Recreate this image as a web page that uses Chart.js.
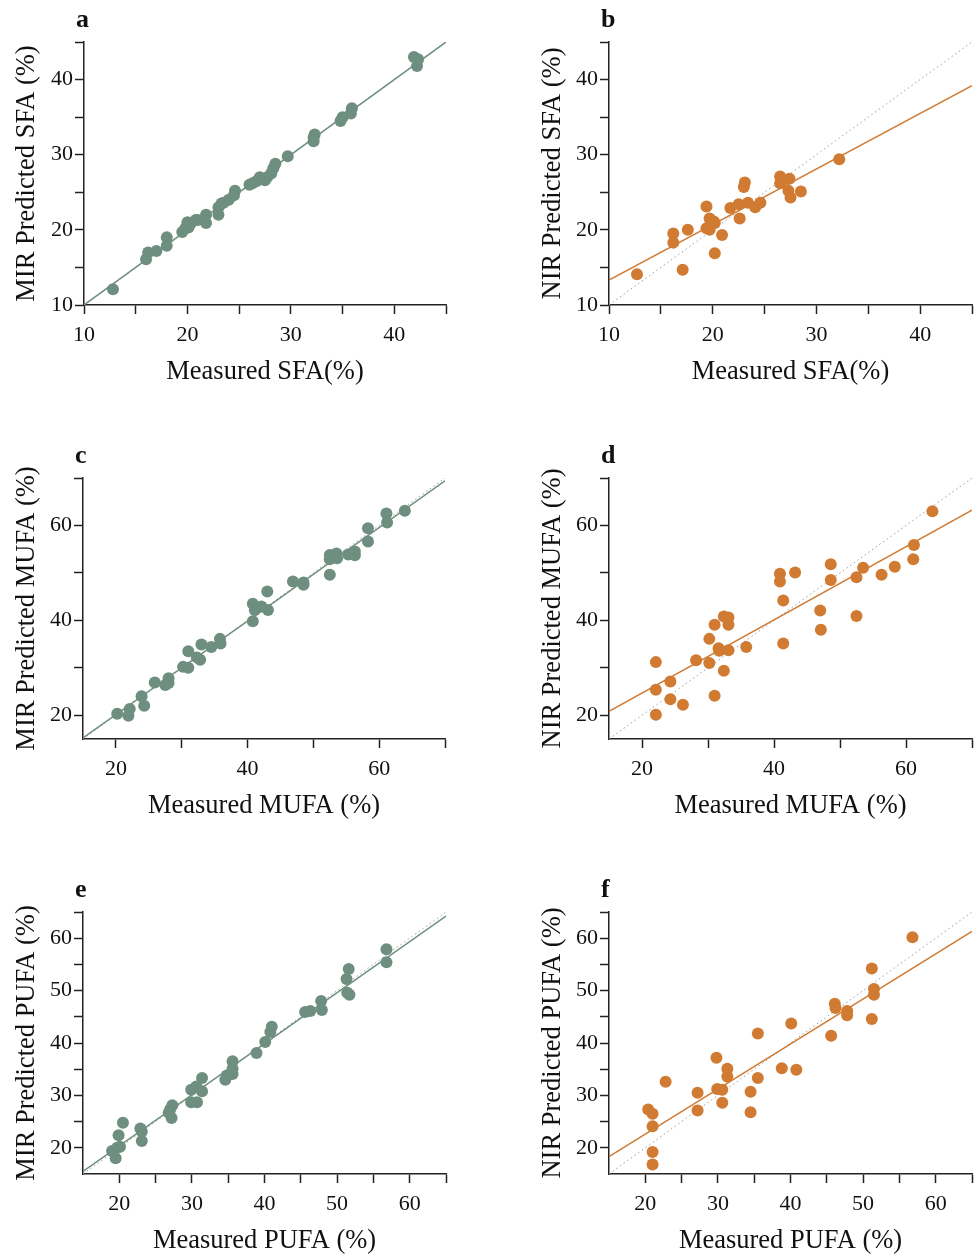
<!DOCTYPE html>
<html>
<head>
<meta charset="utf-8">
<script src="https://cdn.jsdelivr.net/npm/chart.js@4/dist/chart.umd.min.js"></script>
<style>
  html, body { margin: 0; padding: 0; background: #fff; overflow: hidden; }
  #page { position: relative; width: 976px; height: 1255px; overflow: hidden; }
  canvas { position: absolute; }
  .letter {
    position: absolute;
    font: bold 26px "Liberation Serif", "Times New Roman", serif;
    line-height: 1;
    color: #111;
  }
</style>
</head>
<body>
<div id="page"></div>
<script>
'use strict';

// SFA
const sfaMeasuredMir = [12.8, 16.0, 16.2, 17.0, 18.0, 18.0, 19.5, 19.8, 20.0, 20.1, 20.3, 20.8, 21.0, 21.8, 21.8, 23.0, 23.0, 23.3, 23.5, 24.0, 24.5, 24.6, 26.0, 26.3, 26.7, 27.0, 27.5, 27.7, 28.1, 28.3, 28.5, 29.7, 32.2, 32.2, 32.3, 34.8, 35.0, 35.8, 35.9, 41.9, 42.3, 42.2];
const sfaPredictedMir = [12.1, 16.1, 17.0, 17.2, 17.9, 19.0, 19.7, 20.2, 21.0, 20.3, 20.8, 21.3, 21.3, 22.0, 20.9, 22.0, 23.0, 23.5, 23.6, 24.0, 24.6, 25.2, 26.0, 26.2, 26.5, 27.0, 26.6, 27.0, 27.5, 28.2, 28.8, 29.8, 31.8, 32.3, 32.7, 34.5, 35.0, 35.5, 36.2, 43.0, 42.7, 41.8];
const sfaMeasuredNir = [12.7, 16.2, 16.2, 17.1, 17.6, 19.4, 19.4, 19.7, 19.7, 20.1, 20.2, 20.2, 20.9, 21.7, 22.5, 22.6, 23.1, 23.0, 23.4, 24.1, 24.6, 26.5, 26.5, 27.4, 27.3, 27.5, 28.5, 32.2];
const sfaPredictedNir = [14.1, 19.5, 18.3, 14.7, 20.0, 23.1, 20.2, 21.5, 20.0, 21.1, 16.9, 20.9, 19.3, 22.9, 23.4, 21.5, 26.3, 25.7, 23.6, 23.0, 23.6, 27.1, 26.2, 26.8, 25.2, 24.3, 25.1, 29.4];

// MUFA
const mufaMeasuredMir = [20.2, 22.1, 21.9, 23.9, 24.3, 25.9, 27.5, 28.0, 28.0, 30.2, 31.0, 31.0, 32.3, 32.8, 33.0, 34.5, 35.8, 35.9, 40.8, 40.8, 41.1, 42.1, 43.1, 43.0, 46.9, 48.5, 48.5, 52.5, 52.5, 52.5, 53.5, 53.6, 55.3, 56.3, 56.3, 58.3, 58.3, 61.1, 61.2, 63.9];
const mufaPredictedMir = [20.3, 21.3, 19.9, 24.0, 22.0, 26.9, 26.4, 27.8, 26.8, 30.2, 30.0, 33.5, 32.2, 31.7, 34.9, 34.4, 36.1, 35.1, 39.8, 43.5, 42.2, 42.9, 42.2, 46.1, 48.2, 47.5, 48.0, 49.6, 53.8, 52.9, 54.1, 53.1, 53.9, 54.5, 53.7, 56.6, 59.4, 62.5, 60.6, 63.1];
const mufaMeasuredNir = [22.1, 22.1, 22.1, 24.3, 24.3, 26.2, 28.2, 30.2, 30.2, 31.0, 31.0, 31.6, 31.7, 32.4, 32.4, 33.1, 33.1, 33.1, 35.8, 40.9, 40.9, 41.4, 41.4, 43.2, 47.0, 47.1, 48.6, 48.6, 52.5, 52.5, 53.5, 56.3, 58.3, 61.2, 61.1, 64.0];
const mufaPredictedNir = [31.2, 25.4, 20.1, 27.1, 23.4, 22.2, 31.6, 36.1, 31.0, 39.1, 24.1, 34.1, 33.6, 40.8, 29.4, 40.6, 39.1, 33.7, 34.4, 49.8, 48.2, 44.2, 35.1, 50.1, 42.1, 38.0, 51.8, 48.5, 49.1, 40.9, 51.1, 49.6, 51.3, 55.9, 52.9, 63.0];

// PUFA
const pufaMeasuredMir = [19.0, 19.5, 19.7, 20.1, 19.9, 20.5, 22.9, 23.1, 23.1, 27.0, 27.3, 27.2, 26.8, 29.9, 29.9, 30.7, 30.6, 31.4, 31.4, 34.6, 34.8, 35.6, 35.6, 35.6, 38.9, 40.1, 40.8, 41.0, 45.6, 46.3, 47.8, 47.9, 51.3, 51.6, 51.4, 51.7, 56.8, 56.8];
const pufaPredictedMir = [19.4, 18.0, 20.0, 20.2, 22.4, 24.8, 23.7, 23.1, 21.3, 27.3, 28.1, 25.7, 26.7, 31.1, 28.7, 28.7, 31.7, 33.3, 30.8, 33.0, 33.8, 36.5, 35.1, 34.1, 38.1, 40.2, 42.1, 43.1, 45.9, 46.1, 48.0, 46.3, 52.2, 54.1, 49.6, 49.2, 57.9, 55.4];
const pufaMeasuredNir = [20.4, 21.0, 21.0, 21.0, 21.0, 22.8, 27.2, 27.2, 29.8, 29.9, 30.6, 30.6, 31.3, 31.3, 34.5, 34.5, 35.5, 35.5, 38.8, 40.1, 40.8, 45.6, 46.1, 46.2, 47.8, 47.8, 51.2, 51.2, 51.5, 51.5, 56.8];
const pufaPredictedNir = [27.3, 26.5, 24.1, 19.2, 16.8, 32.6, 30.5, 27.1, 37.2, 31.2, 31.1, 28.6, 35.1, 33.6, 30.7, 26.8, 41.8, 33.3, 35.2, 43.7, 34.9, 41.4, 47.5, 46.7, 46.1, 45.3, 54.2, 44.6, 50.3, 49.2, 60.2];

// regression lines: [slope, intercept]
const fitSfaMir = [1.0, 0.0];
const fitSfaNir = [0.74, 5.9];
const fitMufaMir = [0.985, 0.45];
const fitMufaNir = [0.771, 9.24];
const fitPufaMir = [0.974, 0.9];
const fitPufaNir = [0.86, 5.4];

// axis ticks and which of them carry a label
const sfaTicks = [10, 15, 20, 25, 30, 35, 40, 45];
const sfaLabels = [10, 20, 30, 40];
const mufaTicks = [20, 30, 40, 50, 60, 70];
const mufaLabels = [20, 40, 60];
const pufaXTicks = [20, 25, 30, 35, 40, 45, 50, 55, 60, 65];
const pufaXLabels = [20, 30, 40, 50, 60];
const pufaYTicks = [20, 25, 30, 35, 40, 45, 50, 55, 60, 65];
const pufaYLabels = [20, 30, 40, 50, 60];

const GREEN = '#6e8f80';
const ORANGE = '#d07a32';
const FONT = '"Liberation Serif", "Times New Roman", serif';

const panels = [
  { letter: 'a', left: 0, top: 0, padTop: 42, plotH: 263, yAxisW: 84, plotW: 362, yTitlePad: 11,
    xs: sfaMeasuredMir, ys: sfaPredictedMir, fit: fitSfaMir, color: GREEN, range: [10, 45],
    xTicks: sfaTicks, xLabels: sfaLabels, yTicks: sfaTicks, yLabels: sfaLabels,
    xTitle: 'Measured SFA(%)', yTitle: 'MIR Predicted SFA (%)' },
  { letter: 'b', left: 520, top: 0, padTop: 42, plotH: 263, yAxisW: 89, plotW: 363, yTitlePad: 17,
    xs: sfaMeasuredNir, ys: sfaPredictedNir, fit: fitSfaNir, color: ORANGE, range: [10, 45],
    xTicks: sfaTicks, xLabels: sfaLabels, yTicks: sfaTicks, yLabels: sfaLabels,
    xTitle: 'Measured SFA(%)', yTitle: 'NIR Predicted SFA (%)' },
  { letter: 'c', left: 0, top: 430, padTop: 48, plotH: 261, yAxisW: 83, plotW: 362, yTitlePad: 11,
    xs: mufaMeasuredMir, ys: mufaPredictedMir, fit: fitMufaMir, color: GREEN, range: [15, 70],
    xTicks: mufaTicks, xLabels: mufaLabels, yTicks: mufaTicks, yLabels: mufaLabels,
    xTitle: 'Measured MUFA (%)', yTitle: 'MIR Predicted MUFA (%)' },
  { letter: 'd', left: 520, top: 430, padTop: 48, plotH: 261, yAxisW: 89, plotW: 363, yTitlePad: 17,
    xs: mufaMeasuredNir, ys: mufaPredictedNir, fit: fitMufaNir, color: ORANGE, range: [15, 70],
    xTicks: mufaTicks, xLabels: mufaLabels, yTicks: mufaTicks, yLabels: mufaLabels,
    xTitle: 'Measured MUFA (%)', yTitle: 'NIR Predicted MUFA (%)' },
  { letter: 'e', left: 0, top: 865, padTop: 47, plotH: 262, yAxisW: 83, plotW: 363, yTitlePad: 11,
    xs: pufaMeasuredMir, ys: pufaPredictedMir, fit: fitPufaMir, color: GREEN, range: [15, 65],
    xTicks: pufaXTicks, xLabels: pufaXLabels, yTicks: pufaYTicks, yLabels: pufaYLabels,
    xTitle: 'Measured PUFA (%)', yTitle: 'MIR Predicted PUFA (%)' },
  { letter: 'f', left: 520, top: 865, padTop: 47, plotH: 262, yAxisW: 89, plotW: 363, yTitlePad: 17,
    xs: pufaMeasuredNir, ys: pufaPredictedNir, fit: fitPufaNir, color: ORANGE, range: [15, 65],
    xTicks: pufaXTicks, xLabels: pufaXLabels, yTicks: pufaYTicks, yLabels: pufaYLabels,
    xTitle: 'Measured PUFA (%)', yTitle: 'NIR Predicted PUFA (%)' }
];

const X_AXIS_H = 95;
const RIGHT_PAD = 14;

function toPoints(xs, ys) {
  return xs.map((x, i) => ({ x: x, y: ys[i] }));
}

function fitLine(fit, range) {
  return range.map(x => ({ x: x, y: fit[0] * x + fit[1] }));
}

function axis(p, ticks, labels, isX) {
  return {
    type: 'linear',
    min: p.range[0],
    max: p.range[1],
    afterBuildTicks: s => { s.ticks = ticks.map(v => ({ value: v })); },
    afterFit: s => {
      if (isX) s.height = X_AXIS_H;
      else s.width = p.yAxisW;
    },
    border: { display: true, color: '#222', width: 1.5 },
    grid: { drawOnChartArea: false, drawTicks: true, tickLength: 9, tickWidth: 1.5, tickColor: '#222' },
    ticks: {
      autoSkip: false,
      maxRotation: 0,
      padding: isX ? 8 : 2,
      color: '#111',
      font: { family: FONT, size: 22 },
      callback: v => labels.includes(v) ? String(v) : ''
    },
    title: {
      display: true,
      text: isX ? p.xTitle : p.yTitle,
      color: '#111',
      font: { family: FONT, size: 26.5 },
      padding: isX ? { top: 0, bottom: 12 } : { top: p.yTitlePad, bottom: 0 }
    }
  };
}

function drawPanel(p) {
  const page = document.getElementById('page');
  const canvas = document.createElement('canvas');
  const width = p.yAxisW + p.plotW + RIGHT_PAD;
  const height = p.padTop + p.plotH + X_AXIS_H;
  canvas.width = width;
  canvas.height = height;
  canvas.style.left = p.left + 'px';
  canvas.style.top = p.top + 'px';
  canvas.style.width = width + 'px';
  canvas.style.height = height + 'px';
  page.appendChild(canvas);

  const letter = document.createElement('div');
  letter.className = 'letter';
  letter.textContent = p.letter;
  letter.style.left = (p.left + p.yAxisW - 8) + 'px';
  letter.style.top = (p.top + p.padTop - 36) + 'px';
  page.appendChild(letter);

  new Chart(canvas.getContext('2d'), {
    type: 'scatter',
    data: {
      datasets: [
        {
          data: toPoints(p.xs, p.ys),
          backgroundColor: p.color,
          borderWidth: 0,
          pointRadius: 6,
          order: 1
        },
        {
          // regression line
          data: fitLine(p.fit, p.range),
          showLine: true,
          borderColor: p.color,
          borderWidth: 1.5,
          pointRadius: 0,
          order: 2
        },
        {
          // 1:1 line
          data: p.range.map(v => ({ x: v, y: v })),
          showLine: true,
          borderColor: '#9a9a9a',
          borderWidth: 1,
          borderDash: [1.5, 3],
          pointRadius: 0,
          order: 3
        }
      ]
    },
    options: {
      responsive: false,
      animation: false,
      devicePixelRatio: 1,
      layout: { padding: { top: p.padTop, right: RIGHT_PAD, bottom: 0, left: 0 } },
      plugins: { legend: { display: false }, tooltip: { enabled: false } },
      scales: {
        x: axis(p, p.xTicks, p.xLabels, true),
        y: axis(p, p.yTicks, p.yLabels, false)
      }
    }
  });
}

panels.forEach(drawPanel);
</script>
</body>
</html>
